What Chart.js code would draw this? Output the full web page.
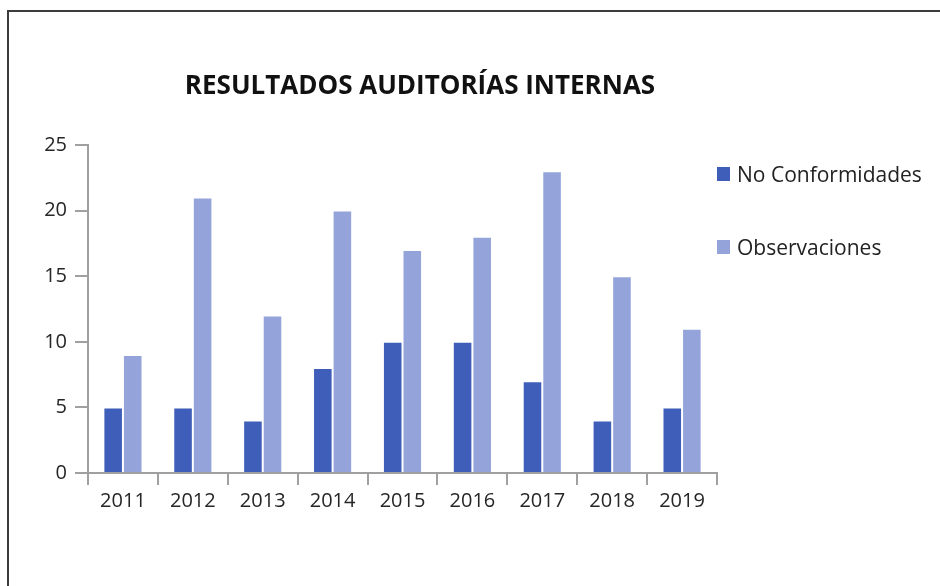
<!DOCTYPE html>
<html lang="es">
<head>
    <meta charset="UTF-8">
    <title>Resultados auditorías internas</title>
    <script src="https://cdn.jsdelivr.net/npm/chart.js"></script>
    <style>
        html, body { margin: 0; padding: 0; background: #fff; }
        body { width: 940px; height: 586px; position: relative; overflow: hidden; font-family: "Open Sans", sans-serif; }
        .frame { position: absolute; left: 7px; top: 10px; right: -10px; bottom: -10px; border-left: 2px solid #3c3c3c; border-top: 2px solid #3c3c3c; }
        #chart { position: absolute; left: 0; top: 0; }
        .title { position: absolute; left: 0; top: 71px; width: 840px; text-align: center; font-weight: 700; font-size: 26px; line-height: 26px; color: #111; }
        .legend { position: absolute; left: 717px; top: 163px; }
        .legend-item { display: flex; align-items: center; height: 22px; margin-bottom: 51px; font-size: 21px; line-height: 22px; color: #222; white-space: nowrap; }
        .legend-box { width: 13px; height: 14px; margin-right: 7px; }
    </style>
</head>
<body>
    <div class="frame"></div>
    <canvas id="chart" width="940" height="586"></canvas>
    <div class="title">RESULTADOS AUDITORÍAS INTERNAS</div>
    <div class="legend" id="legend"></div>
    <script>
        const years = ['2011', '2012', '2013', '2014', '2015', '2016', '2017', '2018', '2019'];
        const noConformidades = [5, 5, 4, 8, 10, 10, 7, 4, 5];
        const observaciones = [9, 21, 12, 20, 17, 18, 23, 15, 11];
        const yTicks = [0, 5, 10, 15, 20, 25];

        const axisColor = '#a0a0a0';
        const tickFont = { family: 'Open Sans', size: 20 };

        const datasets = [
            { label: 'No Conformidades', data: noConformidades, backgroundColor: '#3e5eba' },
            { label: 'Observaciones', data: observaciones, backgroundColor: '#94a4da' }
        ];

        const chart = new Chart(document.getElementById('chart'), {
            type: 'bar',
            data: {
                labels: years,
                datasets: datasets.map(d => ({
                    ...d,
                    borderColor: '#ffffff',
                    borderWidth: 1,
                    categoryPercentage: 0.56,
                    barPercentage: 1
                }))
            },
            options: {
                responsive: false,
                animation: false,
                devicePixelRatio: 1,
                layout: { padding: { left: 38, top: 145, right: 223, bottom: 73 } },
                plugins: {
                    legend: { display: false },
                    title: { display: false },
                    tooltip: { enabled: false }
                },
                scales: {
                    x: {
                        grid: { drawOnChartArea: false, drawTicks: true, tickLength: 12, color: axisColor, lineWidth: 2, offset: true },
                        border: { color: axisColor, width: 2 },
                        ticks: { color: '#262626', font: tickFont, padding: 4, maxRotation: 0 },
                        afterFit: scale => { scale.height = 40; }
                    },
                    y: {
                        min: 0,
                        max: 25,
                        afterBuildTicks: scale => { scale.ticks = yTicks.map(v => ({ value: v })); },
                        grid: { drawOnChartArea: false, drawTicks: true, tickLength: 13, color: axisColor, lineWidth: 2 },
                        border: { color: axisColor, width: 2 },
                        ticks: { color: '#262626', font: tickFont, padding: 8 },
                        afterFit: scale => { scale.width = 50; }
                    }
                }
            }
        });

        // legend built from the same datasets
        const legendEl = document.getElementById('legend');
        chart.data.datasets.forEach(ds => {
            const item = document.createElement('div');
            item.className = 'legend-item';
            item.innerHTML = `<span class="legend-box" style="background:${ds.backgroundColor}"></span>${ds.label}`;
            legendEl.appendChild(item);
        });
    </script>
</body>
</html>
